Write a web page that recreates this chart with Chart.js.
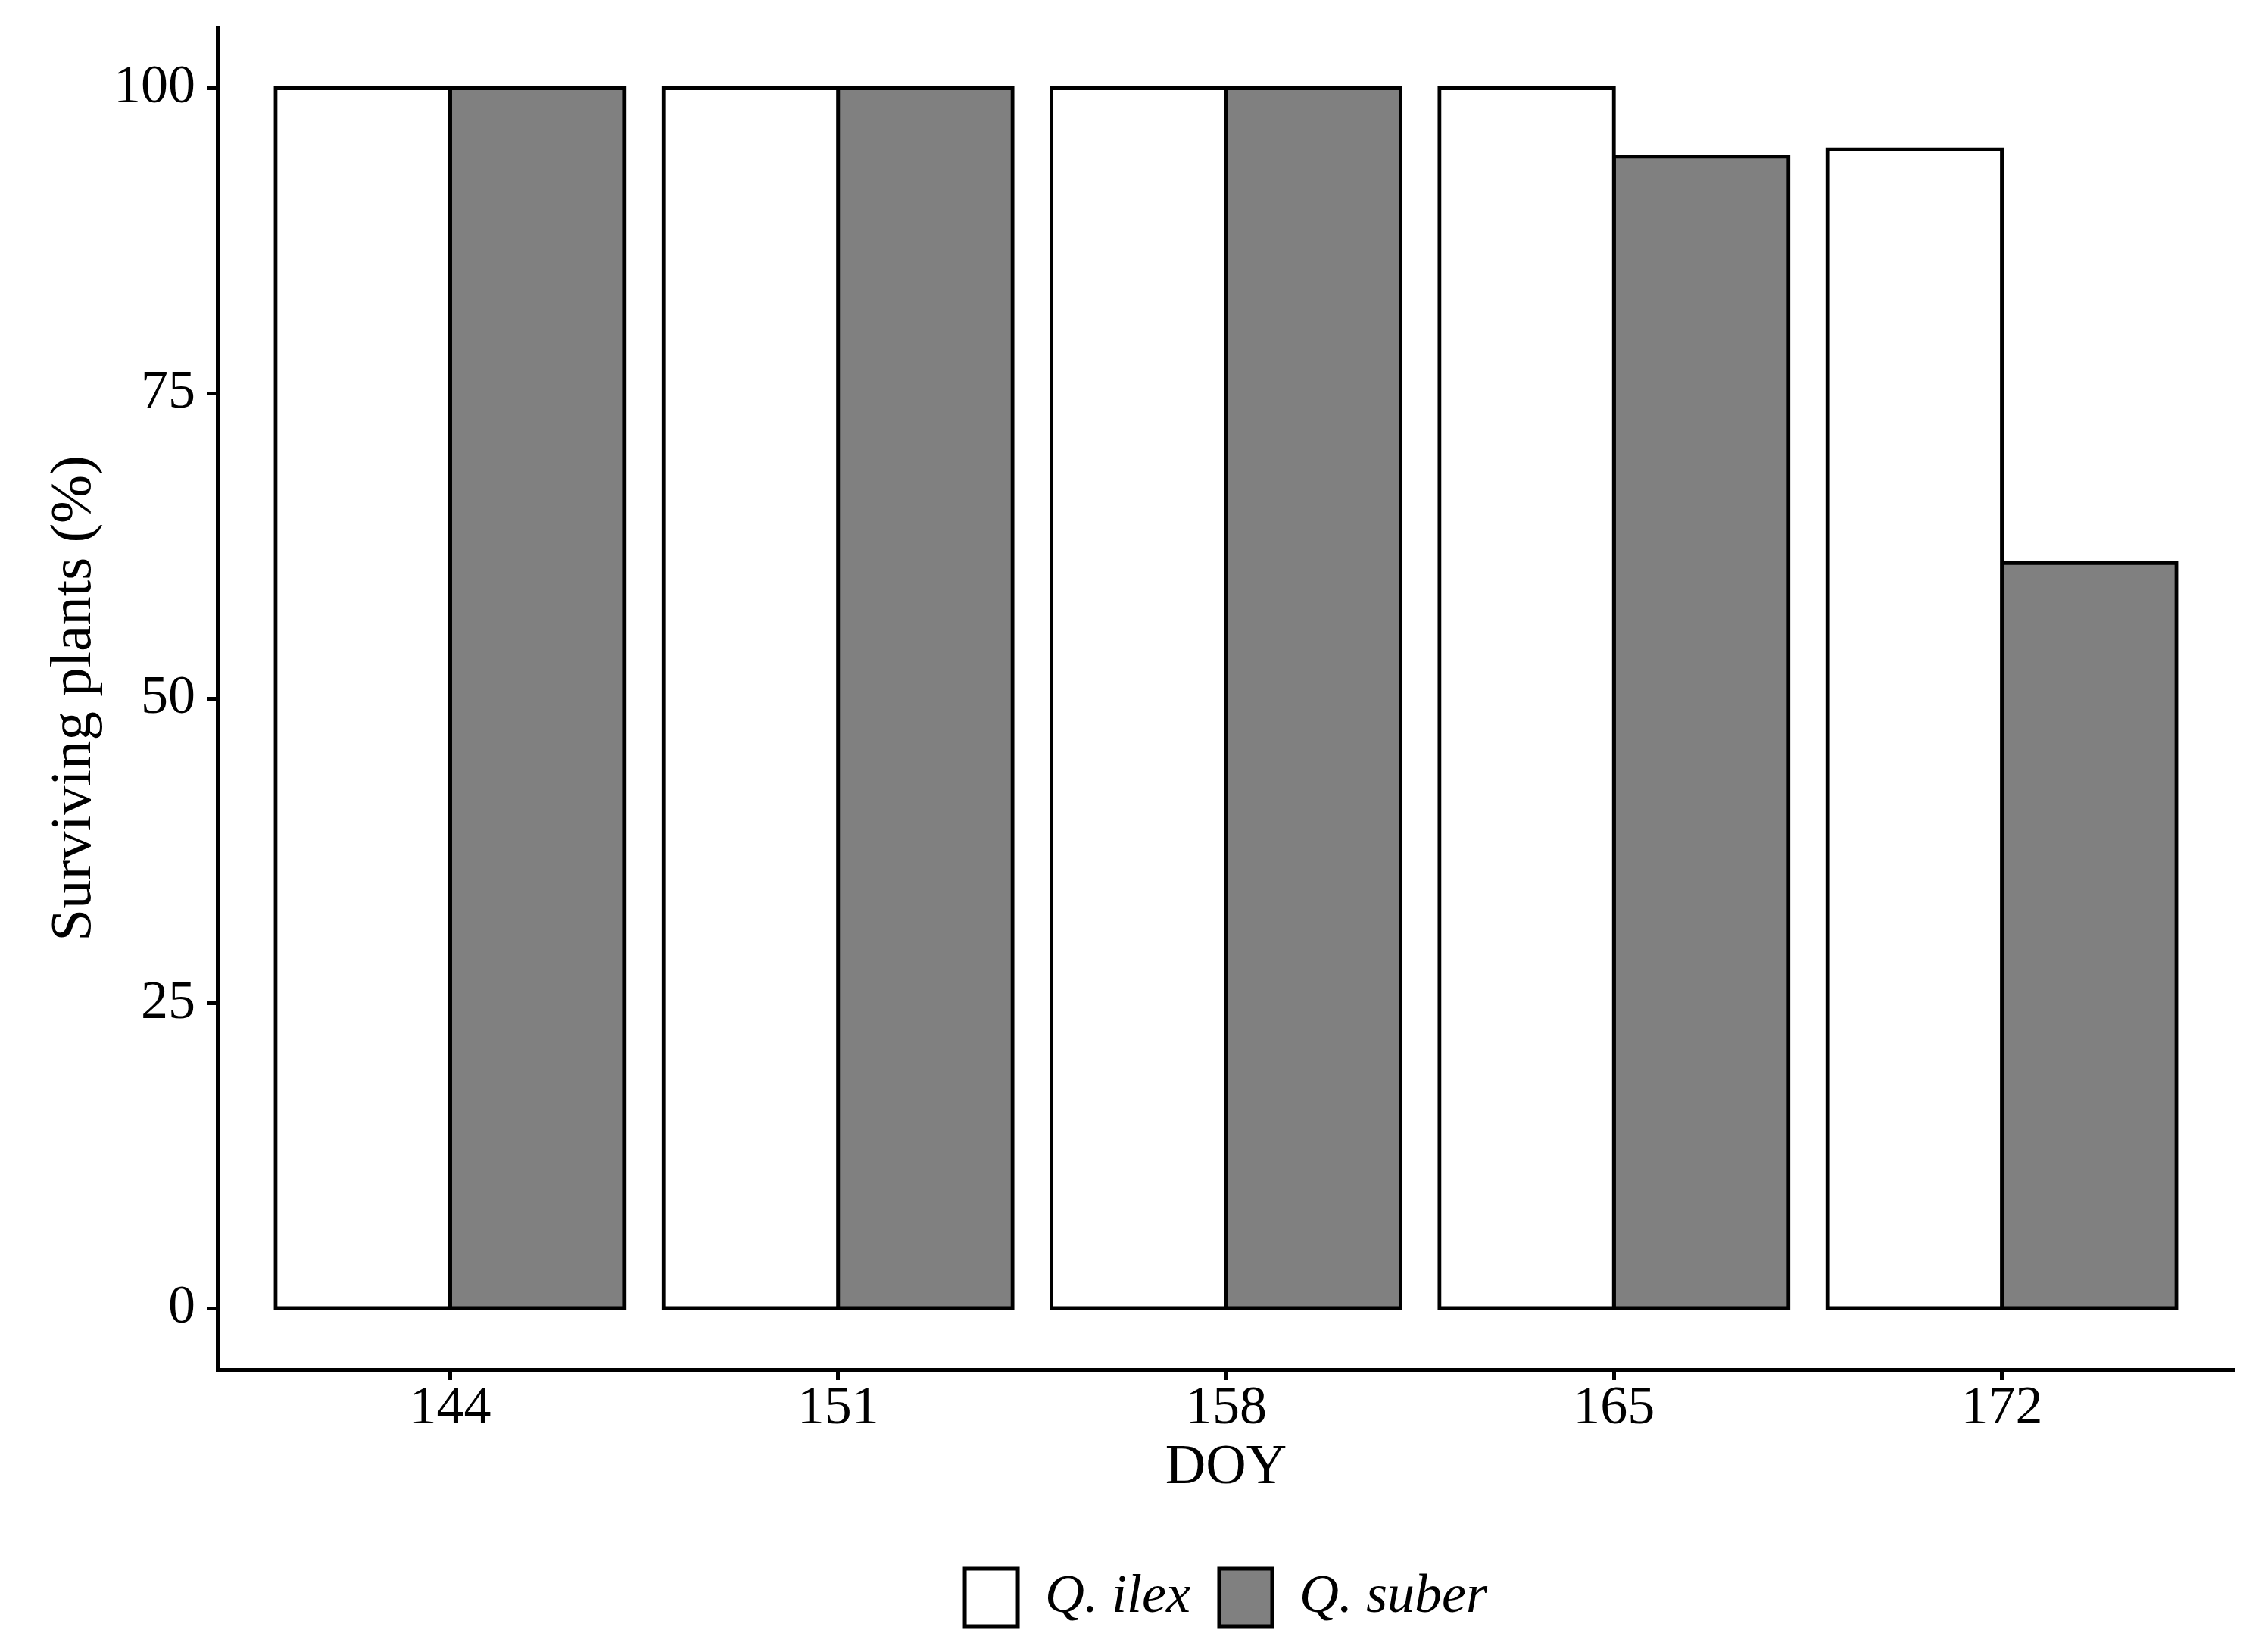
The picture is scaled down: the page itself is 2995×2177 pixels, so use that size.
<!DOCTYPE html>
<html>
<head>
<meta charset="utf-8">
<title>Surviving plants</title>
<script src="https://cdn.jsdelivr.net/npm/chart.js@4.4.1/dist/chart.umd.min.js"></script>
<style>
    html, body { margin: 0; padding: 0; background: #fff; }
    canvas { display: block; }
</style>
</head>
<body>
<canvas id="chart" width="2995" height="2177"></canvas>
<script>
// Datos
const categories = ['144', '151', '158', '165', '172'];
const ilexValues = [100, 100, 100, 100, 95];
const suberValues = [100, 100, 100, 94.4, 61.1];
const yTickValues = [0, 25, 50, 75, 100];

const FONT = "'Liberation Serif', 'Times New Roman', serif";
const INK = '#000000';

// posicion de cada categoria en un eje lineal (1..n), como el eje discreto de ggplot
function toPoints(values) {
    return values.map((v, i) => ({ x: i + 1, y: v }));
}

new Chart(document.getElementById('chart').getContext('2d'), {
    type: 'bar',
    data: {
        datasets: [{
            label: 'Q. ilex',
            data: toPoints(ilexValues),
            backgroundColor: '#ffffff',
            borderColor: INK,
            borderWidth: 5,
            borderSkipped: false,
            inflateAmount: 2.5,
            categoryPercentage: 0.9,
            barPercentage: 1.0
        }, {
            label: 'Q. suber',
            data: toPoints(suberValues),
            backgroundColor: '#808080',
            borderColor: INK,
            borderWidth: 5,
            borderSkipped: false,
            inflateAmount: 2.5,
            categoryPercentage: 0.9,
            barPercentage: 1.0
        }]
    },
    options: {
        responsive: false,
        animation: false,
        devicePixelRatio: 1,
        layout: {
            padding: { top: 36, right: 44, left: 0, bottom: 20 }
        },
        plugins: {
            tooltip: { enabled: false },
            legend: {
                position: 'bottom',
                fullSize: false,
                labels: {
                    color: INK,
                    boxWidth: 70,
                    boxHeight: 76,
                    padding: 38,
                    font: { family: FONT, size: 72, style: 'italic' }
                }
            }
        },
        scales: {
            x: {
                type: 'linear',
                min: 0.4,
                max: categories.length + 0.6,
                offset: false,
                afterBuildTicks: function(scale) {
                    scale.ticks = categories.map((c, i) => ({ value: i + 1 }));
                },
                afterFit: function(scale) {
                    scale.height = 225;
                    scale.paddingLeft = 0;
                    scale.paddingRight = 0;
                },
                ticks: {
                    autoSkip: false,
                    maxRotation: 0,
                    padding: 2,
                    color: INK,
                    font: { family: FONT, size: 72, lineHeight: 1 },
                    callback: function(value) {
                        return categories[value - 1];
                    }
                },
                grid: {
                    display: true,
                    offset: false,
                    drawOnChartArea: false,
                    tickLength: 14,
                    tickWidth: 5,
                    tickColor: INK
                },
                border: { display: true, color: INK, width: 5 },
                title: {
                    display: true,
                    text: 'DOY',
                    color: INK,
                    font: { family: FONT, size: 74, lineHeight: 1 },
                    padding: { top: 0, bottom: 57 }
                }
            },
            y: {
                min: -5,
                max: 105,
                afterBuildTicks: function(scale) {
                    scale.ticks = yTickValues.map(v => ({ value: v }));
                },
                afterFit: function(scale) {
                    scale.width = 287;
                    scale.paddingTop = 0;
                    scale.paddingBottom = 0;
                },
                ticks: {
                    padding: 15,
                    color: INK,
                    font: { family: FONT, size: 72, lineHeight: 1 }
                },
                grid: {
                    display: true,
                    drawOnChartArea: false,
                    tickLength: 14,
                    tickWidth: 5,
                    tickColor: INK
                },
                border: { display: true, color: INK, width: 5 },
                title: {
                    display: true,
                    text: 'Surviving plants (%)',
                    color: INK,
                    font: { family: FONT, size: 77, lineHeight: 1 },
                    padding: { top: 60, bottom: 0 }
                }
            }
        }
    }
});
</script>
</body>
</html>
